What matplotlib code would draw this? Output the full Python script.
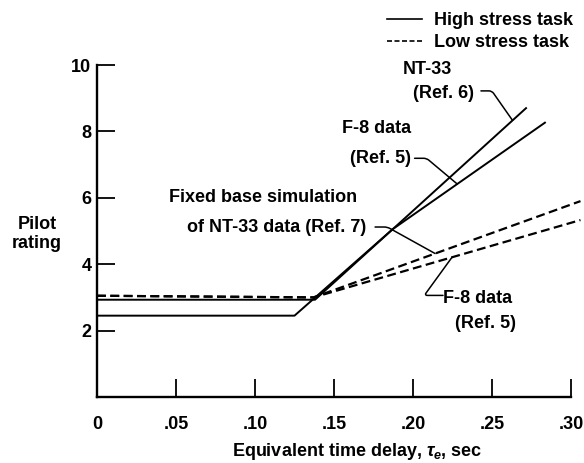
import matplotlib
matplotlib.use("Agg")
import matplotlib.pyplot as plt
from matplotlib.lines import Line2D
import numpy as np

plt.rcParams['font.family'] = ['Liberation Sans', 'DejaVu Sans']
plt.rcParams['font.weight'] = 'bold'
plt.rcParams['mathtext.fontset'] = 'custom'
plt.rcParams['mathtext.rm'] = 'Liberation Sans:bold'
plt.rcParams['mathtext.it'] = 'Liberation Sans:italic:bold'
plt.rcParams['mathtext.bf'] = 'Liberation Sans:bold'

# ---- data ----
x_ticks = [0.0, 0.05, 0.10, 0.15, 0.20, 0.25, 0.30]
x_tick_labels = ['0', '.05', '.10', '.15', '.20', '.25', '.30']
y_ticks = [2, 4, 6, 8, 10]

# high stress task (solid)
nt33_high_x = [0.0, 0.138, 0.272]
nt33_high_y = [2.93, 2.93, 8.72]
f8_high_x = [0.0, 0.125, 0.187, 0.284]
f8_high_y = [2.45, 2.45, 5.05, 8.28]
# low stress task (dashed)
fixed_low_x = [0.0, 0.137, 0.306]
fixed_low_y = [3.05, 3.00, 5.90]
f8_low_x = [0.0, 0.137, 0.306]
f8_low_y = [3.05, 3.00, 5.33]

FS = 13
fig = plt.figure(figsize=(5.84, 4.63), dpi=100)
ax = fig.add_axes([97 / 584, 66 / 463, 474 / 584, 332 / 463])
ax.set_xlim(0, 0.30)
ax.set_ylim(0, 10)

for s in ['top', 'right']:
    ax.spines[s].set_visible(False)
for s in ['left', 'bottom']:
    ax.spines[s].set_linewidth(1.7)

ax.set_xticks(x_ticks)
ax.set_xticklabels(x_tick_labels)
ax.set_yticks(y_ticks)
ax.tick_params(axis='x', direction='in', length=13, width=1.3, pad=14, labelsize=FS)
ax.tick_params(axis='y', direction='in', length=13, width=1.3, pad=4, labelsize=FS)

lw = 1.4
ax.plot(nt33_high_x, nt33_high_y, color='black', lw=lw, clip_on=False, solid_capstyle='butt')
ax.plot(f8_high_x, f8_high_y, color='black', lw=lw, clip_on=False, solid_capstyle='butt')
ax.plot(fixed_low_x, fixed_low_y, color='black', lw=1.6, dashes=(4, 2), clip_on=False)
ax.plot(f8_low_x, f8_low_y, color='black', lw=1.6, dashes=(4, 2), dash_capstyle='butt',
        clip_on=False)

# ---- annotations ----
tk = dict(fontsize=FS, fontweight='bold', va='center')
ax.text(0.209, 9.86, 'NT-33', ha='center', **tk)
ax.text(0.219, 9.15, '(Ref. 6)', ha='center', **tk)
ax.text(0.199, 8.10, 'F-8 data', ha='right', **tk)
ax.text(0.199, 7.19, '(Ref. 5)', ha='right', **tk)
ax.text(0.105, 6.02, 'Fixed base simulation', ha='center', **tk)
ax.text(0.114, 5.12, 'of NT-33 data (Ref. 7)', ha='center', **tk)
ax.text(0.241, 2.96, 'F-8 data', ha='center', **tk)
ax.text(0.246, 2.22, '(Ref. 5)', ha='center', **tk)


def leader(start, xe, lx, ly, angle_b):
    ye = float(np.interp(xe, lx, ly))
    ax.annotate('', xy=(xe, ye), xytext=start, annotation_clip=False,
                arrowprops=dict(arrowstyle='-', lw=1.1, color='black',
                                shrinkA=0, shrinkB=0,
                                connectionstyle='angle,angleA=0,angleB=%g,rad=3' % angle_b))


leader((0.243, 9.22), 0.263, nt33_high_x, nt33_high_y, 125)
leader((0.201, 7.19), 0.228, f8_high_x, f8_high_y, 140)
leader((0.176, 5.12), 0.214, fixed_low_x, fixed_low_y, 151)
leader((0.219, 3.06), 0.2247, f8_low_x, f8_low_y, 54)

# ---- axis labels ----
ax.set_xlabel(r'Equivalent time delay, $\tau_e$, sec', fontsize=FS, fontweight='bold')
ax.xaxis.set_label_coords((357 - 97) / 474, -0.132)
ax.set_ylabel('Pilot\nrating', fontsize=FS, fontweight='bold', rotation=0,
              ha='center', va='center', linespacing=1.2)
ax.yaxis.set_label_coords((37 - 97) / 474, (397 - 234) / 332)

# ---- legend ----
handles = [Line2D([], [], color='black', lw=1.2),
           Line2D([], [], color='black', lw=1.2, dashes=(3, 1.5))]
fig.legend(handles, ['High stress task', 'Low stress task'], loc='upper left',
           bbox_to_anchor=(387 / 584, 1 - 12 / 463), frameon=False, borderpad=0,
           borderaxespad=0, handlelength=1.95, handletextpad=0.65, labelspacing=0.3,
           prop=dict(size=FS, weight='bold'))

fig.savefig('out.png', dpi=100)
